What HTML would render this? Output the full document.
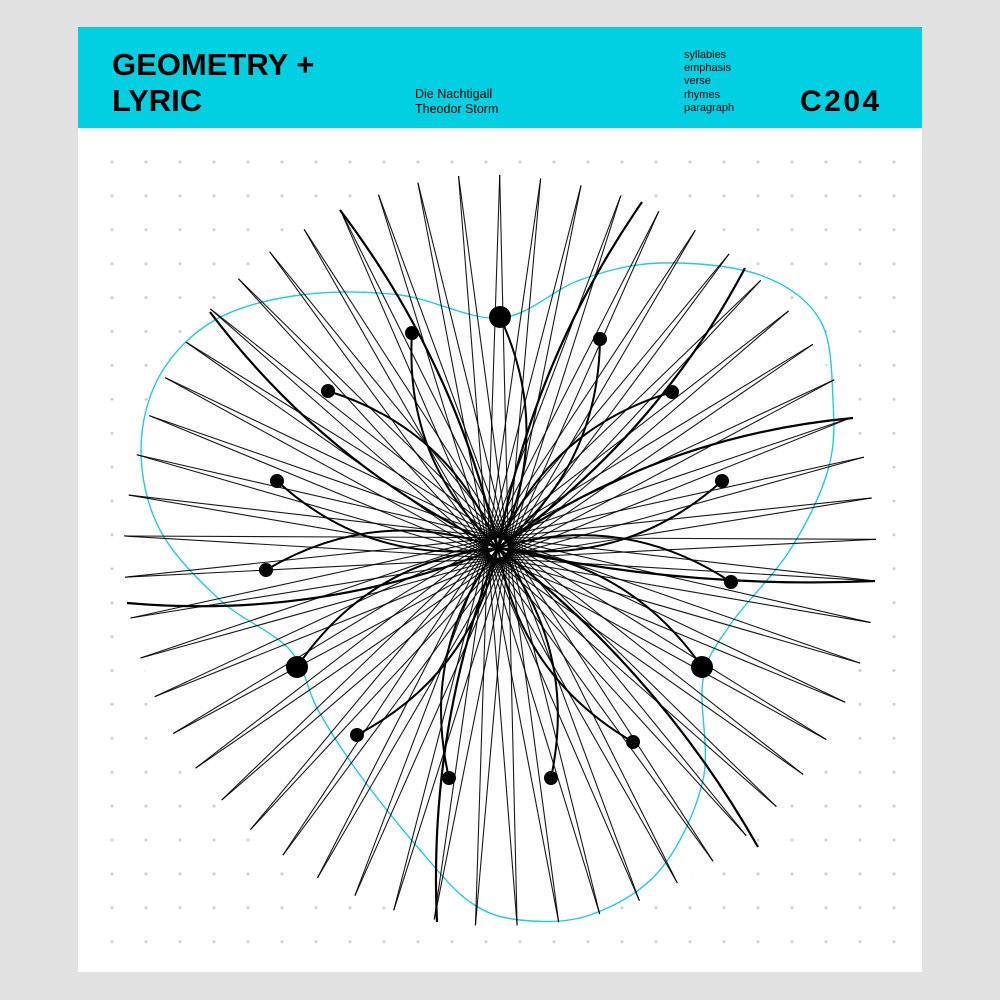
<!DOCTYPE html>
<html><head><meta charset="utf-8"><style>
html,body{margin:0;padding:0;background:#e1e1e1;}
body{width:1000px;height:1000px;position:relative;overflow:hidden;font-family:"Liberation Sans",sans-serif;}
#card{position:absolute;left:78px;top:27px;width:844px;height:945px;background:#fff;}
#hdr{position:absolute;left:0;top:0;width:844px;height:101px;background:#00d0e2;}
.t{position:absolute;color:#000;}
</style></head><body>
<div id="card">
 <div id="hdr">
  <div class="t" style="left:34px;top:20px;font-size:31px;font-weight:bold;line-height:36px;">GEOMETRY +<br>LYRIC</div>
  <div class="t" style="left:337px;top:60px;font-size:12.5px;line-height:15px;">Die Nachtigall<br>Theodor Storm</div>
  <div class="t" style="left:606px;top:22px;font-size:11px;line-height:13.2px;">syllables<br>emphasis<br>verse<br>rhymes<br>paragraph</div>
  <div class="t" style="left:722px;top:58px;font-size:30px;font-weight:bold;letter-spacing:2.5px;">C204</div>
 </div>
</div>
<svg id="art" width="1000" height="1000" style="position:absolute;left:0;top:0"></svg>
<script>
const radii=[378,380,380,380,380,380,380,380,380,380,380,380,379,378,378,377,377,376,376,375,375,374,374,374,374,374,374,374,374,373,373,373,374,374,374,374,374,373,373,373,374,374,373,372,372,373,373,374,374,375,375,375,376,376,377,377,378];
const dots=[[500,317,11],[702,667,11],[297,667,11],[412,333,7],[600,339,7],[672,392,7],[722,481,7],[731,582,7],[633,742,7],[551,778,7],[449,778,7],[357,735,7],[266,570,7],[277,481,7],[328,391,7]];
const thickTips=[[210,312,45],[340,210,-40],[642,202,40],[745,268,-45],[853,418,50],[875,581,-25],[758,847,40],[437,922,-40],[127,603,45]];
const blob=[[500,318],[580,280],[660,263],[760,275],[820,320],[833,400],[828,470],[790,550],[730,625],[703,680],[703,780],[660,870],[590,915],[520,920],[470,902],[420,850],[360,775],[318,710],[290,650],[220,600],[160,530],[141,450],[160,375],[215,320],[300,295],[400,295]];
const NS='http://www.w3.org/2000/svg';
const svg=document.getElementById('art');
const cx=498,cy=548,N=57,step=360/N,off=5;
function mk(t,a){const e=document.createElementNS(NS,t);for(const k in a)e.setAttribute(k,a[k]);svg.appendChild(e);return e;}
for(let y=162;y<950;y+=33.9){for(let x=112;x<900;x+=34.0){const d=mk('circle',{cx:x,cy:y,r:1.5,fill:'#cfcfcf'});

}}
const tips=radii.map((r,i)=>{const a=(off+i*step)*Math.PI/180;return [cx+r*Math.cos(a),cy+r*Math.sin(a)];});
let hp='';tips.forEach((p,i)=>{hp+=(i?'L':'M')+p[0].toFixed(1)+','+p[1].toFixed(1);});
const hull=mk('path',{d:hp+'Z',fill:'#fff'});


let bd='M'+blob[0][0]+','+blob[0][1];const n=blob.length;
for(let i=0;i<n;i++){const p0=blob[(i-1+n)%n],p1=blob[i],p2=blob[(i+1)%n],p3=blob[(i+2)%n];
bd+=`C${p1[0]+(p2[0]-p0[0])/6},${p1[1]+(p2[1]-p0[1])/6} ${p2[0]-(p3[0]-p1[0])/6},${p2[1]-(p3[1]-p1[1])/6} ${p2[0]},${p2[1]}`;}
const bl=mk('path',{d:bd,fill:'none',stroke:'#1fcde0','stroke-width':1.4});


for(let i=0;i<N;i++){const j=(i+28)%N;
const l=mk('line',{x1:tips[i][0],y1:tips[i][1],x2:tips[j][0],y2:tips[j][1],stroke:'#000','stroke-width':1.1,'stroke-opacity':0.9});

}
function curve(x,y,o,w){const mx=(x+cx)/2,my=(y+cy)/2,dx=cx-x,dy=cy-y,L=Math.hypot(dx,dy);
return mk('path',{d:`M${x},${y}Q${mx-dy/L*o},${my+dx/L*o} ${cx},${cy}`,fill:'none',stroke:'#000','stroke-width':w});}
thickTips.forEach(t=>{const c=curve(t[0],t[1],t[2],2.2);

});
dots.forEach((d,i)=>{const c=curve(d[0],d[1],i%2?55:-55,2);

});
dots.forEach(d=>{const c=mk('circle',{cx:d[0],cy:d[1],r:d[2],fill:'#000'});

});
</script>
</body></html>
